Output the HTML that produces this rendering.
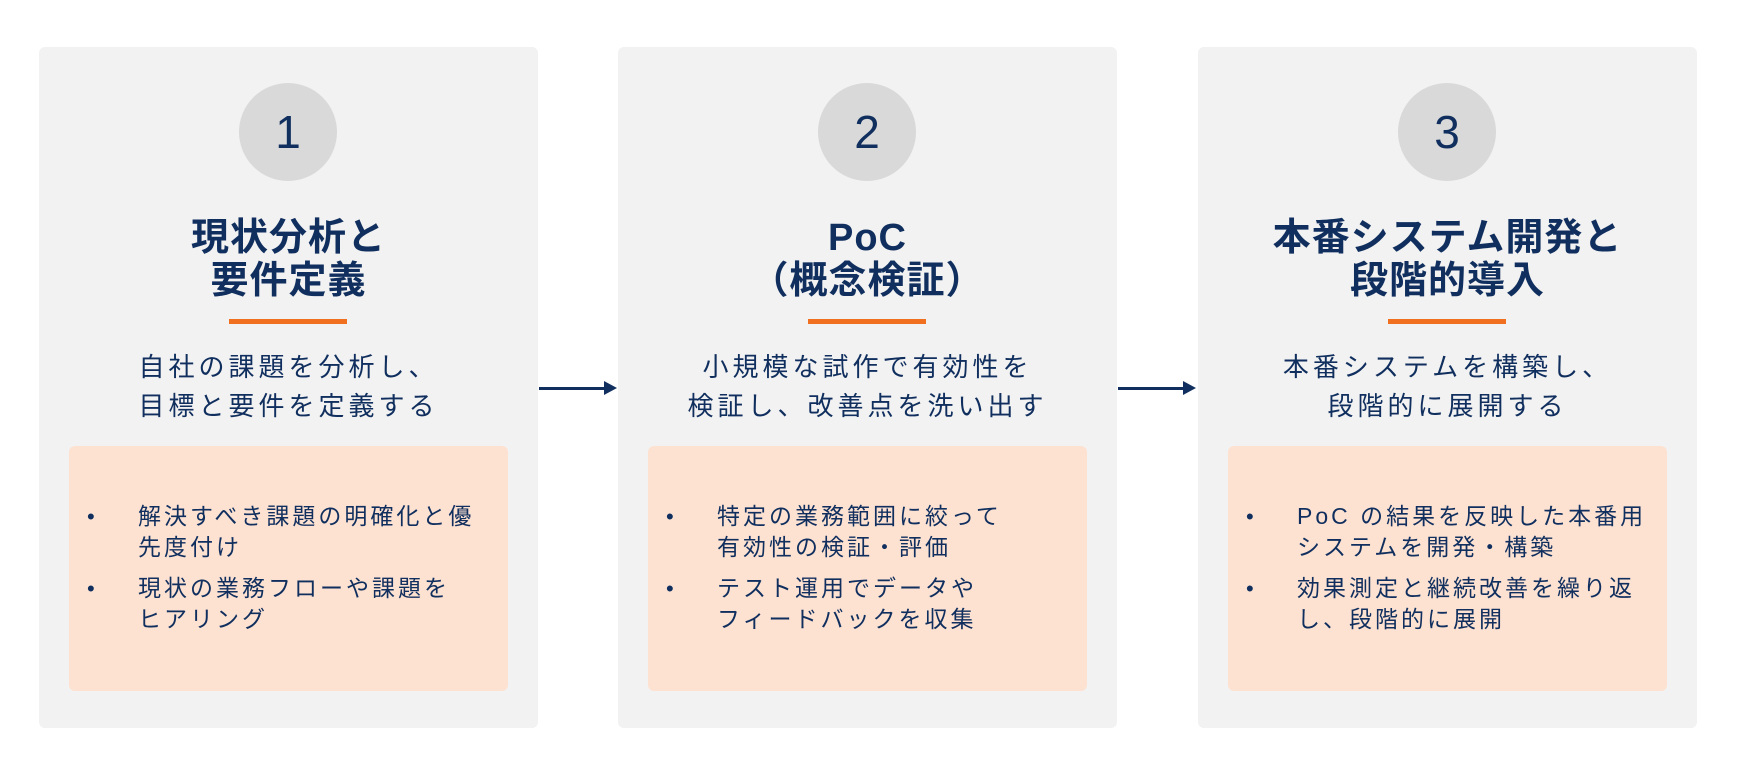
<!DOCTYPE html>
<html><head><meta charset="utf-8"><style>
*{margin:0;padding:0;box-sizing:border-box}
body{width:1742px;height:766px;background:#fff;position:relative;overflow:hidden;font-family:"Liberation Sans","Noto Sans CJK JP",sans-serif;color:#102f5e}
.card{position:absolute;top:47px;width:499px;height:681px;background:#f2f2f2;border-radius:6px}
.circ{position:absolute;left:200px;top:36px;width:98px;height:98px;border-radius:50%;background:#d9d9d9;font-size:46px;line-height:98px;text-align:center;color:#102f5e}
.t{position:absolute;left:0;width:499px;text-align:center;font-weight:bold;font-size:38px;line-height:43px;white-space:nowrap;letter-spacing:1px}
.bar{position:absolute;left:190px;width:118px;height:5px;top:272px;background:#f07020}
.d{position:absolute;left:0;width:499px;text-align:center;font-size:26px;line-height:39px;top:301px;letter-spacing:4px;white-space:nowrap}
.box{position:absolute;left:30px;top:399px;width:439px;height:245px;background:#fde2d2;border-radius:6px}
.li{position:absolute;left:69px;font-size:23px;line-height:31px;white-space:nowrap;letter-spacing:3px}
.dot{position:absolute;left:18px;font-size:22px;line-height:31px}
.arr{position:absolute;top:387px;height:3px;background:#102f5e;width:66px}
.arr:after{content:"";position:absolute;right:-12px;top:-6px;border-left:13px solid #102f5e;border-top:7px solid transparent;border-bottom:7px solid transparent}
</style></head><body>

<div class="card" style="left:39px">
<div class="circ">1</div>
<div class="t" style="top:170px">現状分析と<br>要件定義</div>
<div class="bar"></div>
<div class="d">自社の課題を分析し、<br>目標と要件を定義する</div>
<div class="box">
<div class="dot" style="top:55px">•</div><div class="li" style="top:55px">解決すべき課題の明確化と優<br>先度付け</div>
<div class="dot" style="top:127px">•</div><div class="li" style="top:127px">現状の業務フローや課題を<br>ヒアリング</div>
</div>
</div>

<div class="arr" style="left:539px"></div>

<div class="card" style="left:618px">
<div class="circ">2</div>
<div class="t" style="top:170px">PoC<br>（概念検証）</div>
<div class="bar"></div>
<div class="d">小規模な試作で有効性を<br>検証し、改善点を洗い出す</div>
<div class="box">
<div class="dot" style="top:55px">•</div><div class="li" style="top:55px">特定の業務範囲に絞って<br>有効性の検証・評価</div>
<div class="dot" style="top:127px">•</div><div class="li" style="top:127px">テスト運用でデータや<br>フィードバックを収集</div>
</div>
</div>

<div class="arr" style="left:1118px"></div>

<div class="card" style="left:1198px">
<div class="circ">3</div>
<div class="t" style="top:170px">本番システム開発と<br>段階的導入</div>
<div class="bar"></div>
<div class="d">本番システムを構築し、<br>段階的に展開する</div>
<div class="box">
<div class="dot" style="top:55px">•</div><div class="li" style="top:55px">PoC の結果を反映した本番用<br>システムを開発・構築</div>
<div class="dot" style="top:127px">•</div><div class="li" style="top:127px">効果測定と継続改善を繰り返<br>し、段階的に展開</div>
</div>
</div>

</body></html>
